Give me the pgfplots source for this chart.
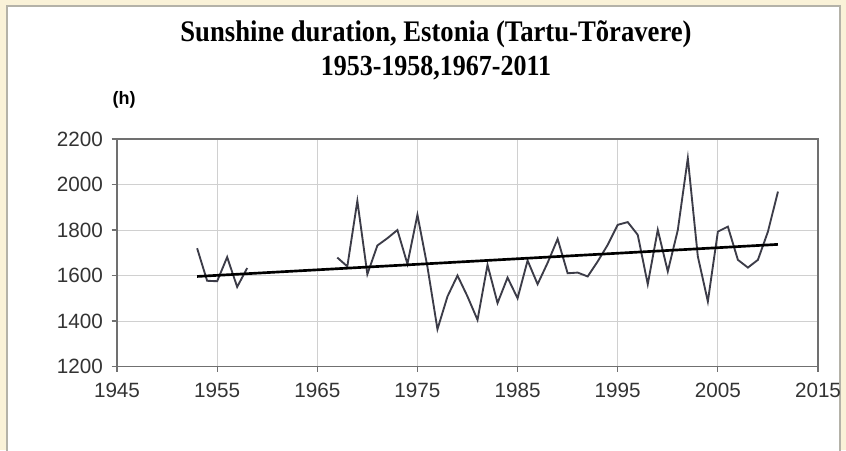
\documentclass[border=0pt]{standalone}
\usepackage{fontspec}
\setmainfont{Liberation Sans}
\newfontfamily\titlefont{Liberation Serif}
\usepackage{graphicx}
\usepackage{pgfplots}
\pgfplotsset{compat=1.18}

\definecolor{bgcream}{HTML}{FAF2D8}
\definecolor{panelgray}{HTML}{B4B2A8}
\definecolor{gridgray}{HTML}{D0D0D0}
\definecolor{axisgray}{HTML}{707070}
\definecolor{seriesdark}{HTML}{3C3C48}

\begin{document}
\begin{tikzpicture}
% background and panel, in pixel units of the 846x450 reference
\begin{scope}[x=0.75pt,y=0.75pt]
  \useasboundingbox (0,0) rectangle (846,450);
  \fill[bgcream] (0,0) rectangle (846,450);
  \fill[white] (7,-2) rectangle (840,444);
  \draw[panelgray,line width=2.2pt] (7,-2) -- (7,444) -- (840,444) -- (840,-2);
  \node[font=\titlefont\bfseries\fontsize{20}{22}\selectfont] at (436,416)
    {\scalebox{1}[1.12]{Sunshine duration, Estonia (Tartu-Tõravere)}};
  \node[font=\titlefont\bfseries\fontsize{19.5}{22}\selectfont] at (436,382)
    {\scalebox{1}[1.12]{1953-1958,1967-2011}};
  \node[font=\bfseries\fontsize{13.5}{15}\selectfont] at (124,350) {(h)};
\end{scope}

\begin{axis}[
    at={(87.75pt,62.6pt)},
    anchor=south west,
    scale only axis,
    width=525.75pt,
    height=170.6pt,
    xmin=1945, xmax=2015,
    ymin=1200, ymax=2200,
    xtick={1945,1955,...,2015},
    ytick={1200,1400,...,2200},
    xticklabel style={/pgf/number format/1000 sep={}, yshift=-5pt},
    yticklabel style={/pgf/number format/1000 sep={}, xshift=-3pt},
    /pgf/number format/assume math mode=true,
    tick label style={font=\fontsize{15.5}{17}\selectfont, text=black!80},
    grid=major,
    major grid style={gridgray, line width=0.7pt},
    axis line style={axisgray, line width=0.9pt},
    tick style={axisgray, line width=0.9pt},
    tick align=outside,
    tick pos=left,
    major tick length=4pt,
]

% sunshine hours, 1953-1958
\addplot[seriesdark, line width=1.4pt, mark=none] coordinates {
    (1953,1720) (1954,1577) (1955,1575) (1956,1681) (1957,1550) (1958,1633)
};

% sunshine hours, 1967-2011
\addplot[seriesdark, line width=1.4pt, mark=none] coordinates {
    (1967,1679) (1968,1640) (1969,1928) (1970,1606) (1971,1732)
    (1972,1764) (1973,1800) (1974,1651) (1975,1867) (1976,1638)
    (1977,1364) (1978,1508) (1979,1600) (1980,1508) (1981,1405)
    (1982,1647) (1983,1479) (1984,1591) (1985,1500) (1986,1666)
    (1987,1562) (1988,1656) (1989,1761) (1990,1610) (1991,1613)
    (1992,1596) (1993,1662) (1994,1735) (1995,1823) (1996,1835)
    (1997,1779) (1998,1562) (1999,1801) (2000,1618) (2001,1800)
    (2002,2116) (2003,1684) (2004,1486) (2005,1793) (2006,1815)
    (2007,1669) (2008,1635) (2009,1669) (2010,1793) (2011,1969)
};

% linear trend
\addplot[black, line width=2pt, mark=none] coordinates {
    (1953,1596) (2011,1737)
};

\end{axis}
\end{tikzpicture}
\end{document}
